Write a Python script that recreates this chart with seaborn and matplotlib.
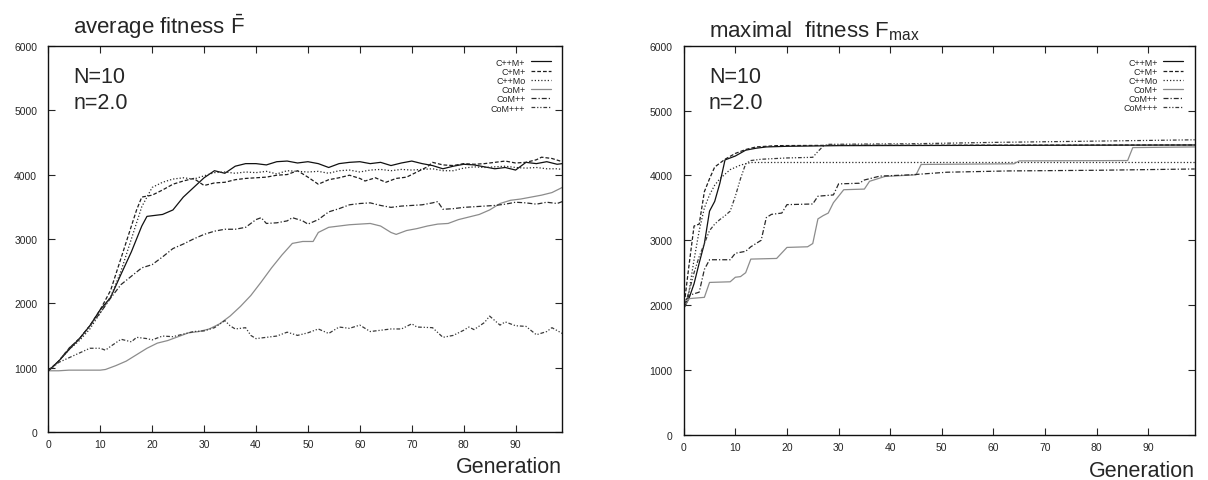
import pandas as pd
import seaborn as sns
import matplotlib.pyplot as plt

runs = ['C++M+', 'C+M+', 'C++Mo', 'CoM+', 'CoM++', 'CoM+++']

# left panel: average fitness per generation
avg_cppmp_gen = [0, 2, 4, 6, 8, 10, 12, 14, 16, 18, 19, 20, 22, 24, 26, 28, 30, 32, 34, 36, 38, 40, 42, 44, 46,
                 48, 50, 52, 54, 56, 58, 60, 62, 64, 66, 68, 70, 72, 74, 76, 78, 80, 82, 84, 86, 88, 90, 92,
                 94, 96, 98, 99]
avg_cppmp = [950, 1100, 1280, 1450, 1650, 1900, 2090, 2450, 2800, 3200, 3350, 3360, 3380, 3450, 3650, 3800,
             3950, 4060, 4020, 4130, 4170, 4170, 4150, 4200, 4210, 4180, 4200, 4170, 4110, 4170, 4190, 4200,
             4170, 4190, 4140, 4180, 4210, 4170, 4140, 4090, 4130, 4160, 4150, 4120, 4090, 4110, 4070, 4190,
             4170, 4200, 4160, 4170]

avg_cpmp_gen = [0, 2, 4, 6, 8, 10, 12, 14, 16, 17, 18, 20, 22, 24, 26, 28, 30, 32, 34, 36, 38, 40, 42, 44, 46,
                48, 50, 52, 54, 56, 58, 60, 61, 63, 65, 67, 69, 71, 73, 74, 76, 78, 80, 82, 84, 86, 88, 90,
                92, 94, 95, 97, 99]
avg_cpmp = [950, 1100, 1300, 1450, 1650, 1900, 2200, 2700, 3200, 3450, 3650, 3680, 3760, 3850, 3900, 3940,
            3830, 3870, 3880, 3920, 3940, 3950, 3960, 3990, 4000, 4060, 3960, 3850, 3920, 3950, 3990, 3940,
            3900, 3950, 3880, 3940, 3960, 4040, 4120, 4190, 4150, 4140, 4170, 4160, 4170, 4190, 4210, 4180,
            4190, 4230, 4270, 4250, 4200]

avg_cppmo_gen = [0, 2, 4, 6, 8, 10, 12, 14, 16, 18, 20, 22, 24, 26, 28, 30, 32, 34, 36, 38, 40, 42, 44, 46, 48,
                 50, 52, 54, 56, 58, 60, 62, 64, 66, 68, 70, 72, 74, 76, 78, 80, 82, 84, 86, 88, 90, 92, 94,
                 96, 98, 99]
avg_cppmo = [950, 1100, 1280, 1420, 1600, 1850, 2100, 2500, 3000, 3500, 3800, 3880, 3930, 3950, 3930, 3980,
             4030, 4040, 4020, 4040, 4030, 4050, 4010, 4060, 4050, 4040, 4050, 4020, 4060, 4070, 4040, 4070,
             4080, 4060, 4080, 4070, 4080, 4090, 4060, 4060, 4100, 4120, 4110, 4120, 4130, 4110, 4100, 4110,
             4090, 4090, 4080]

avg_comp_gen = [0, 2, 4, 6, 8, 10, 11, 13, 15, 17, 19, 21, 23, 25, 27, 29, 31, 33, 35, 37, 39, 41, 43, 45, 47,
                49, 51, 52, 54, 56, 58, 60, 62, 64, 66, 67, 69, 71, 73, 75, 77, 79, 81, 83, 85, 87, 89, 91,
                93, 95, 97, 99]
avg_comp = [950, 950, 960, 960, 960, 960, 970, 1030, 1100, 1200, 1300, 1380, 1420, 1480, 1540, 1560, 1600,
            1680, 1800, 1950, 2120, 2330, 2550, 2750, 2930, 2960, 2960, 3100, 3180, 3200, 3220, 3230, 3240,
            3200, 3100, 3070, 3130, 3160, 3200, 3230, 3240, 3300, 3340, 3380, 3450, 3550, 3600, 3620, 3650,
            3680, 3720, 3800]

avg_compp_gen = [0, 2, 4, 6, 8, 10, 12, 14, 16, 18, 20, 22, 24, 26, 28, 30, 32, 34, 36, 38, 40, 41, 42, 44,
                 46, 47, 49, 50, 52, 54, 56, 58, 60, 62, 64, 66, 68, 70, 72, 74, 75, 76, 78, 80, 82, 84, 86,
                 88, 90, 92, 94, 96, 98, 99]
avg_compp = [950, 1100, 1300, 1450, 1650, 1850, 2080, 2290, 2420, 2550, 2600, 2720, 2850, 2920, 3000, 3070,
             3120, 3150, 3150, 3180, 3300, 3330, 3240, 3250, 3280, 3330, 3280, 3230, 3300, 3420, 3470, 3530,
             3550, 3560, 3520, 3490, 3510, 3520, 3530, 3560, 3580, 3460, 3470, 3490, 3500, 3510, 3520, 3540,
             3570, 3560, 3540, 3570, 3550, 3580]

avg_comppp_gen = [0, 2, 5, 8, 10, 11, 12, 14, 16, 17, 19, 20, 22, 24, 26, 28, 30, 32, 34, 35, 36, 38, 39, 40,
                  42, 44, 46, 48, 50, 52, 54, 56, 58, 60, 62, 64, 66, 68, 70, 71, 74, 76, 78, 80, 81, 82, 84,
                  85, 87, 88, 90, 92, 94, 96, 97, 99]
avg_comppp = [950, 1080, 1190, 1300, 1300, 1270, 1330, 1440, 1400, 1470, 1450, 1430, 1490, 1480, 1520, 1560,
              1570, 1620, 1730, 1650, 1600, 1620, 1500, 1450, 1470, 1490, 1550, 1500, 1540, 1600, 1530, 1630,
              1610, 1660, 1560, 1580, 1600, 1600, 1680, 1630, 1620, 1470, 1500, 1580, 1630, 1590, 1700, 1800,
              1660, 1710, 1650, 1640, 1510, 1560, 1620, 1530]

# right panel: maximal fitness per generation
max_cppmp_gen = [0, 1, 2, 3, 4, 5, 6, 7, 8, 10, 12, 14, 16, 20, 30, 99]
max_cppmp = [1950, 2100, 2330, 2650, 2950, 3450, 3600, 3880, 4240, 4300, 4390, 4420, 4440, 4450, 4460, 4470]

max_cpmp_gen = [0, 1, 2, 3, 4, 5, 6, 8, 10, 12, 14, 18, 30, 99]
max_cpmp = [1950, 2600, 3220, 3250, 3750, 3950, 4130, 4250, 4340, 4400, 4440, 4460, 4465, 4470]

max_cppmo_gen = [0, 1, 2, 3, 4, 5, 6, 7, 8, 9, 11, 13, 99]
max_cppmo = [1950, 2200, 2700, 3150, 3500, 3700, 3850, 3950, 4020, 4090, 4160, 4200, 4200]

max_comp_gen = [0, 1, 4, 5, 9, 10, 11, 12, 13, 18, 20, 24, 25, 26, 27, 28, 29, 31, 35, 36, 39, 45, 46, 64,
                65, 86, 87, 99]
max_comp = [1950, 2100, 2120, 2350, 2360, 2430, 2440, 2500, 2710, 2720, 2890, 2900, 2950, 3330, 3380, 3420,
            3580, 3780, 3790, 3910, 3985, 4010, 4170, 4180, 4225, 4230, 4430, 4440]

max_compp_gen = [0, 1, 3, 4, 5, 9, 10, 12, 13, 14, 15, 16, 17, 19, 20, 25, 26, 29, 30, 34, 35, 38, 44, 51,
                 63, 80, 99]
max_compp = [1950, 2150, 2200, 2550, 2700, 2700, 2800, 2830, 2900, 2950, 3000, 3350, 3400, 3420, 3550, 3560,
             3680, 3700, 3870, 3880, 3930, 3990, 4010, 4050, 4070, 4080, 4100]

max_comppp_gen = [0, 1, 2, 3, 4, 5, 6, 7, 8, 9, 10, 11, 12, 13, 15, 20, 25, 26, 27, 28, 45, 60, 80, 99]
max_comppp = [1950, 2200, 2500, 2750, 2950, 3150, 3250, 3320, 3380, 3450, 3680, 3950, 4180, 4230, 4250,
              4270, 4280, 4370, 4450, 4480, 4490, 4510, 4530, 4550]

yticks = [0, 1000, 2000, 3000, 4000, 5000, 6000]
xticks = [0, 10, 20, 30, 40, 50, 60, 70, 80, 90]


def to_frame(pairs):
    frames = []
    for run, (gen, fit) in zip(runs, pairs):
        frames.append(pd.DataFrame({'Generation': gen, 'fitness': fit, 'run': run}))
    return pd.concat(frames, ignore_index=True)


avg_df = to_frame([(avg_cppmp_gen, avg_cppmp), (avg_cpmp_gen, avg_cpmp), (avg_cppmo_gen, avg_cppmo),
                   (avg_comp_gen, avg_comp), (avg_compp_gen, avg_compp), (avg_comppp_gen, avg_comppp)])
max_df = to_frame([(max_cppmp_gen, max_cppmp), (max_cpmp_gen, max_cpmp), (max_cppmo_gen, max_cppmo),
                   (max_comp_gen, max_comp), (max_compp_gen, max_compp), (max_comppp_gen, max_comppp)])

sns.set_style('ticks')
plt.rcParams['font.family'] = ['Liberation Sans', 'DejaVu Sans']
plt.rcParams['mathtext.fontset'] = 'custom'
plt.rcParams['mathtext.rm'] = 'Liberation Sans'
plt.rcParams['mathtext.default'] = 'regular'

palette = {'C++M+': '#111111', 'C+M+': '#1e1e1e', 'C++Mo': '#2a2a2a',
           'CoM+': '#8c8c8c', 'CoM++': '#2a2a2a', 'CoM+++': '#3a3a3a'}
dashes = {'C++M+': '', 'C+M+': (3, 1.6), 'C++Mo': (1, 1.6), 'CoM+': '',
          'CoM++': (4, 1.6, 1, 1.6), 'CoM+++': (3, 1.5, 1, 1.5, 1, 1.5)}

fig = plt.figure(figsize=(12.08, 4.81), dpi=100)
ax1 = fig.add_axes([0.040, 0.100, 0.4255, 0.8025])
ax2 = fig.add_axes([0.566, 0.094, 0.423, 0.8087])

for ax, df in [(ax1, avg_df), (ax2, max_df)]:
    sns.lineplot(data=df, x='Generation', y='fitness', hue='run', style='run',
                 hue_order=runs, style_order=runs, palette=palette, dashes=dashes,
                 estimator=None, sort=False, linewidth=0.9, ax=ax)
    ax.set_xlim(0, 99)
    ax.set_ylim(0, 6000)
    ax.set_xticks(xticks)
    ax.set_yticks(yticks)
    ax.set_xlabel('')
    ax.set_ylabel('')
    ax.tick_params(direction='in', top=True, right=True, length=5, width=0.8, labelsize=7.5)
    ax.tick_params(axis='x', pad=5)
    ax.tick_params(axis='y', pad=8)
    for sp in ax.spines.values():
        sp.set_visible(True)
        sp.set_linewidth(1.0)
        sp.set_color('#111111')
    handles, labels = ax.get_legend_handles_labels()
    keep = [(h, l) for h, l in zip(handles, labels) if l in runs]
    ax.legend([h for h, _ in keep], [l for _, l in keep], loc='upper right', markerfirst=False,
              frameon=False, fontsize=6.5, labelspacing=0.02, handlelength=2.2, handletextpad=0.6,
              borderaxespad=0.9)
    ax.text(0.049, 0.907, 'N=10', transform=ax.transAxes, fontsize=15.5, va='baseline')
    ax.text(0.049, 0.84, 'n=2.0', transform=ax.transAxes, fontsize=15.5, va='baseline')
    ax.text(1.0, -0.105, 'Generation', transform=ax.transAxes, fontsize=15.5, ha='right', va='baseline')

fig.text(73 / 1208, 1 - 34 / 481, r'average fitness $\bar{F}$', fontsize=16, va='baseline')
fig.text(709 / 1208, 1 - 37 / 481, r'maximal  fitness F$_{max}$', fontsize=16, va='baseline')

fig.savefig('out.png', dpi=100)
